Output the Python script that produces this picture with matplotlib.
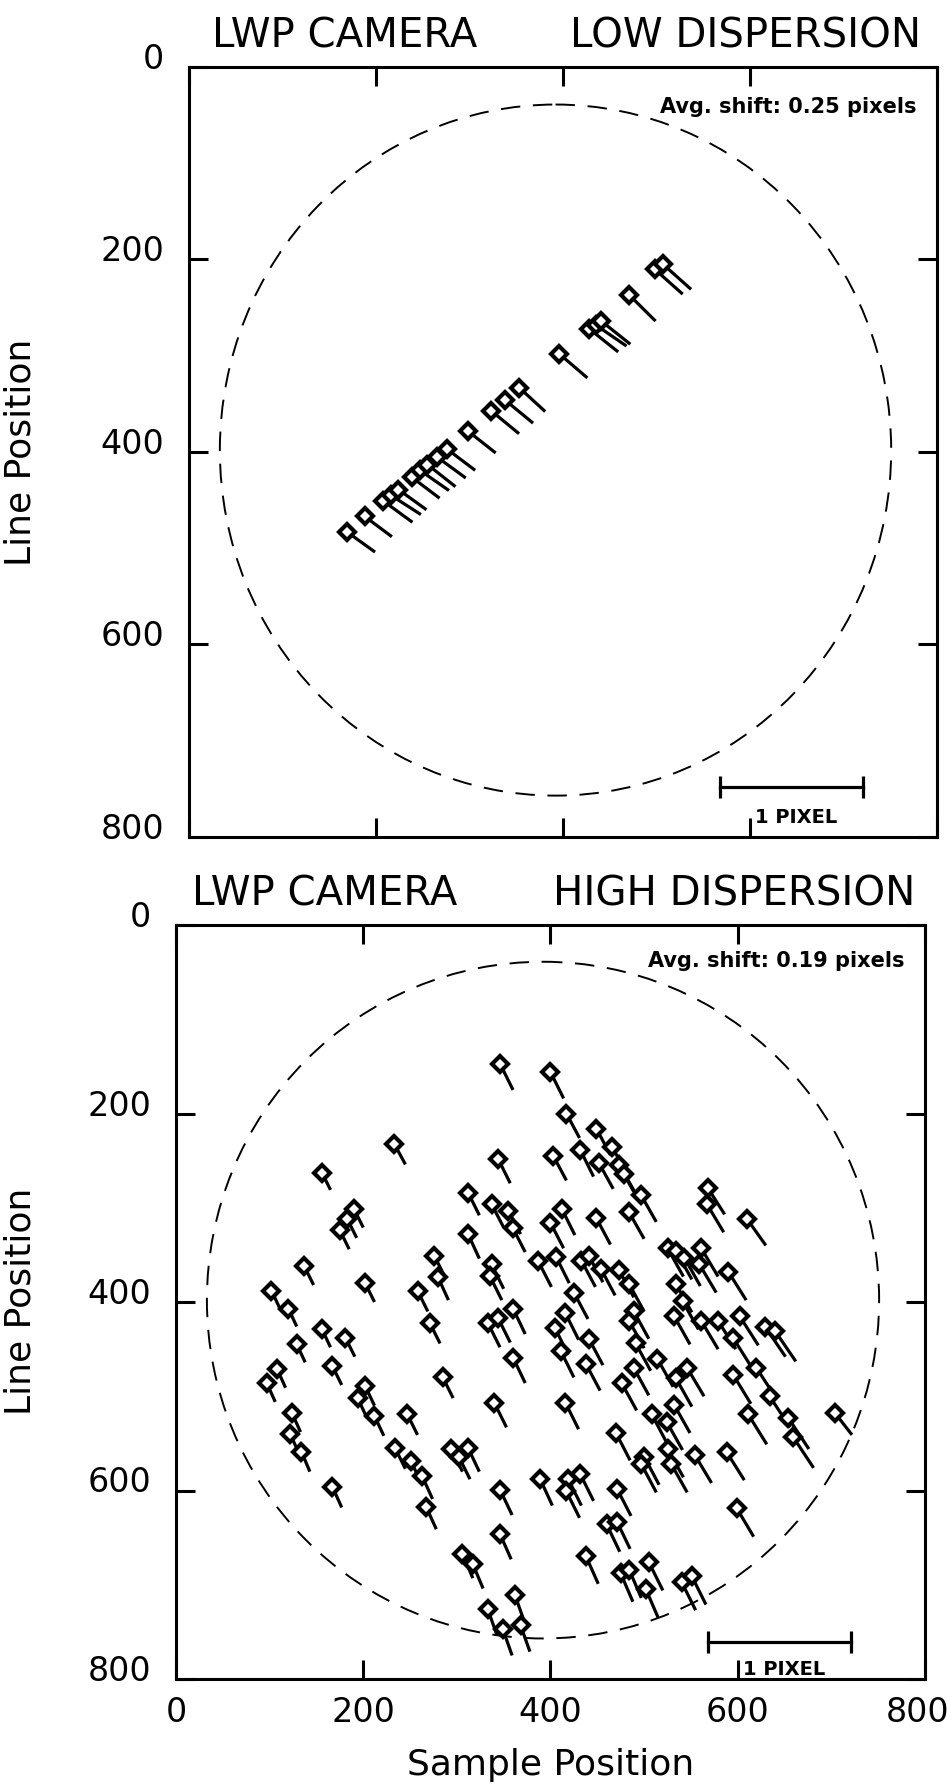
"""Image shift maps for the LWP camera, low and high dispersion."""

import matplotlib
matplotlib.use("Agg")
import matplotlib.pyplot as plt
from matplotlib.patches import Circle
from matplotlib.transforms import ScaledTranslation

TICKS = [0, 200, 400, 600, 800]

# low dispersion: diamond positions (sample, line) and shift vectors
LOW_X = [169, 188, 208, 216, 224, 238, 247, 255, 265, 276, 298, 323, 338,
         353, 396, 428, 435, 441, 471, 498, 507]
LOW_Y = [483, 467, 451, 445, 439, 426, 419, 413, 405, 397, 378, 357, 346,
         333, 298, 272, 268, 264, 237, 210, 205]
LOW_DX = [30, 29, 31, 32, 30, 30, 31, 30, 31, 30, 30, 30, 30,
          28, 30, 31, 33, 31, 28, 30, 30]
LOW_DY = [21, 21, 22, 20, 21, 22, 21, 23, 22, 22, 23, 24, 24,
          25, 25, 24, 22, 24, 27, 26, 26]

# high dispersion
HIGH_X = [346, 400, 233, 417, 449, 156, 466, 432, 403, 344,
          452, 473, 479, 568, 497, 312, 337, 355, 360, 567,
          412, 400, 449, 484, 610, 312, 190, 183, 175, 137,
          276, 280, 202, 337, 335, 387, 406, 433, 441, 454,
          473, 525, 534, 561, 543, 559, 590, 102, 258, 120,
          271, 333, 344, 156, 181, 129, 167, 108, 97, 285,
          202, 194, 247, 340, 124, 212, 122, 134, 234, 251,
          263, 267, 294, 302, 312, 167, 346, 346, 306, 317,
          333, 349, 484, 534, 425, 541, 360, 416, 405, 489,
          484, 532, 561, 579, 602, 629, 640, 441, 491, 595,
          411, 360, 438, 514, 489, 546, 534, 620, 476, 595,
          634, 532, 416, 508, 524, 611, 654, 704, 659, 470,
          525, 500, 497, 529, 554, 588, 389, 419, 432, 417,
          471, 599, 460, 471, 438, 505, 475, 484, 502, 540,
          551, 362, 368]
HIGH_Y = [147, 156, 232, 200, 216, 263, 236, 239, 245, 248,
          253, 255, 264, 279, 287, 284, 296, 303, 322, 296,
          301, 316, 311, 305, 312, 328, 301, 312, 324, 362,
          351, 374, 380, 360, 372, 357, 352, 356, 351, 365,
          366, 343, 346, 343, 353, 360, 368, 388, 388, 407,
          422, 422, 417, 429, 438, 445, 468, 471, 486, 480,
          489, 502, 519, 507, 518, 521, 540, 559, 555, 569,
          585, 617, 556, 564, 555, 596, 599, 646, 667, 678,
          726, 747, 381, 381, 390, 399, 407, 412, 428, 410,
          420, 415, 420, 420, 415, 426, 431, 439, 444, 438,
          452, 459, 466, 460, 470, 470, 481, 470, 486, 477,
          500, 509, 507, 519, 527, 519, 523, 518, 543, 539,
          556, 564, 572, 572, 562, 559, 588, 588, 583, 601,
          598, 619, 636, 633, 670, 676, 688, 684, 705, 697,
          691, 711, 743]
HIGH_DX = [14, 14, 12, 14, 15, 9, 16, 14, 14, 13,
           15, 16, 16, 18, 16, 12, 13, 13, 13, 18,
           14, 14, 15, 16, 20, 12, 10, 10, 10, 10,
           11, 11, 10, 13, 13, 14, 14, 15, 15, 15,
           16, 17, 17, 18, 17, 18, 19, 9, 11, 9,
           11, 13, 13, 9, 10, 9, 10, 9, 9, 11,
           10, 10, 11, 13, 9, 10, 9, 9, 11, 11,
           11, 11, 12, 12, 12, 10, 13, 12, 11, 11,
           10, 10, 16, 17, 15, 17, 13, 14, 14, 16,
           16, 17, 18, 19, 20, 22, 22, 15, 16, 19,
           14, 13, 15, 17, 16, 18, 17, 21, 16, 19,
           22, 17, 14, 16, 17, 20, 22, 18, 22, 15,
           17, 16, 16, 17, 18, 19, 13, 14, 14, 14,
           15, 18, 14, 14, 13, 15, 13, 13, 13, 15,
           15, 10, 10]
HIGH_DY = [28, 28, 22, 26, 28, 18, 28, 28, 26, 26,
           27, 28, 28, 28, 28, 24, 25, 25, 25, 30,
           28, 27, 28, 28, 28, 26, 20, 20, 20, 20,
           22, 24, 20, 26, 26, 27, 28, 28, 28, 28,
           29, 30, 30, 30, 30, 30, 30, 19, 22, 19,
           22, 26, 26, 19, 20, 19, 20, 20, 20, 22,
           21, 21, 22, 26, 20, 21, 20, 21, 22, 23,
           24, 24, 24, 24, 25, 22, 27, 27, 26, 26,
           28, 28, 29, 30, 28, 30, 27, 28, 28, 29,
           29, 30, 30, 30, 31, 32, 32, 28, 29, 30,
           28, 27, 28, 30, 29, 30, 30, 32, 29, 31,
           33, 30, 28, 30, 30, 32, 33, 23, 33, 29,
           30, 30, 30, 30, 30, 30, 28, 28, 28, 28,
           29, 30, 29, 29, 29, 30, 30, 30, 30, 30,
           30, 28, 28]

CIRCLE_CENTER = (392, 398)
CIRCLE_RADIUS = 359
SCALE_BAR = (568, 721)  # 1 pixel of shift = ~150 units

W, H = 953, 1788

PANELS = [
    dict(rect=[189 / W, 1 - 837 / H, 748 / W, 770 / H],
         x=LOW_X, y=LOW_Y, dx=LOW_DX, dy=LOW_DY,
         mode="LOW DISPERSION", shift="Avg. shift: 0.25 pixels",
         title_x=212, title_right=921, title_y=47,
         bar_y=748, bar_label_y=780, shift_y=42, shift_x=504,
         ylabel_y=452, xlabels=False),
    dict(rect=[176 / W, 1 - 1679 / H, 749 / W, 754 / H],
         x=HIGH_X, y=HIGH_Y, dx=HIGH_DX, dy=HIGH_DY,
         mode="HIGH DISPERSION", shift="Avg. shift: 0.19 pixels",
         title_x=192, title_right=915, title_y=906,
         bar_y=761, bar_label_y=790, shift_y=38, shift_x=504,
         ylabel_y=1301, xlabels=True),
]


def draw_panel(fig, p):
    ax = fig.add_axes(p["rect"])
    for x, y, dx, dy in zip(p["x"], p["y"], p["dx"], p["dy"]):
        ax.plot([x, x + dx], [y, y + dy], color="black", lw=2.3,
                solid_capstyle="butt", zorder=2)
    ax.plot(p["x"], p["y"], ls="none", marker="D", ms=8, mfc="white",
            mec="black", mew=3.0, zorder=3)
    ax.add_patch(Circle(CIRCLE_CENTER, CIRCLE_RADIUS, fill=False,
                        color="black", lw=1.4, ls=(0, (10, 6.5))))

    ax.plot(SCALE_BAR, [p["bar_y"]] * 2, color="black", lw=2.3,
            marker="|", ms=16, mew=2.3)
    ax.text(sum(SCALE_BAR) / 2 + 5, p["bar_label_y"], "1 PIXEL",
            fontsize=14, fontweight="bold", ha="center", va="center")
    ax.text(p["shift_x"], p["shift_y"], p["shift"], fontsize=15,
            fontweight="bold", ha="left", va="center")

    ax.set_xlim(0, 800)
    ax.set_ylim(800, 0)
    ax.set_xticks(TICKS)
    ax.set_yticks(TICKS)
    ax.tick_params(direction="in", length=14, width=2.2, top=True,
                   right=True, labelsize=24, labelbottom=p["xlabels"])
    ax.tick_params(axis="x", pad=12)
    ax.tick_params(axis="y", pad=18)
    for side in ax.spines.values():
        side.set_linewidth(2.2)

    # y tick labels sit a little above their ticks in the original
    up = ScaledTranslation(0, 0.11, fig.dpi_scale_trans)
    for lab in ax.get_yticklabels():
        lab.set_transform(lab.get_transform() + up)
    # keep the last x label inside the page
    xlabs = ax.get_xticklabels()
    if xlabs:
        left = ScaledTranslation(-0.07, 0, fig.dpi_scale_trans)
        xlabs[-1].set_transform(xlabs[-1].get_transform() + left)

    fig.text(p["title_x"] / W, 1 - p["title_y"] / H, "LWP CAMERA",
             fontsize=29, ha="left", va="baseline")
    fig.text(p["title_right"] / W, 1 - p["title_y"] / H, p["mode"],
             fontsize=29, ha="right", va="baseline")
    fig.text(21 / W, 1 - p["ylabel_y"] / H, "Line Position",
             fontsize=26, rotation=90, ha="center", va="center")
    return ax


def main() -> None:
    fig = plt.figure(figsize=(W / 100, H / 100), dpi=100)
    for p in PANELS:
        ax = draw_panel(fig, p)
    ax.set_xlabel("Sample Position", fontsize=26, labelpad=14)
    fig.savefig("out.png", dpi=100)
    plt.close(fig)


if __name__ == "__main__":
    main()
